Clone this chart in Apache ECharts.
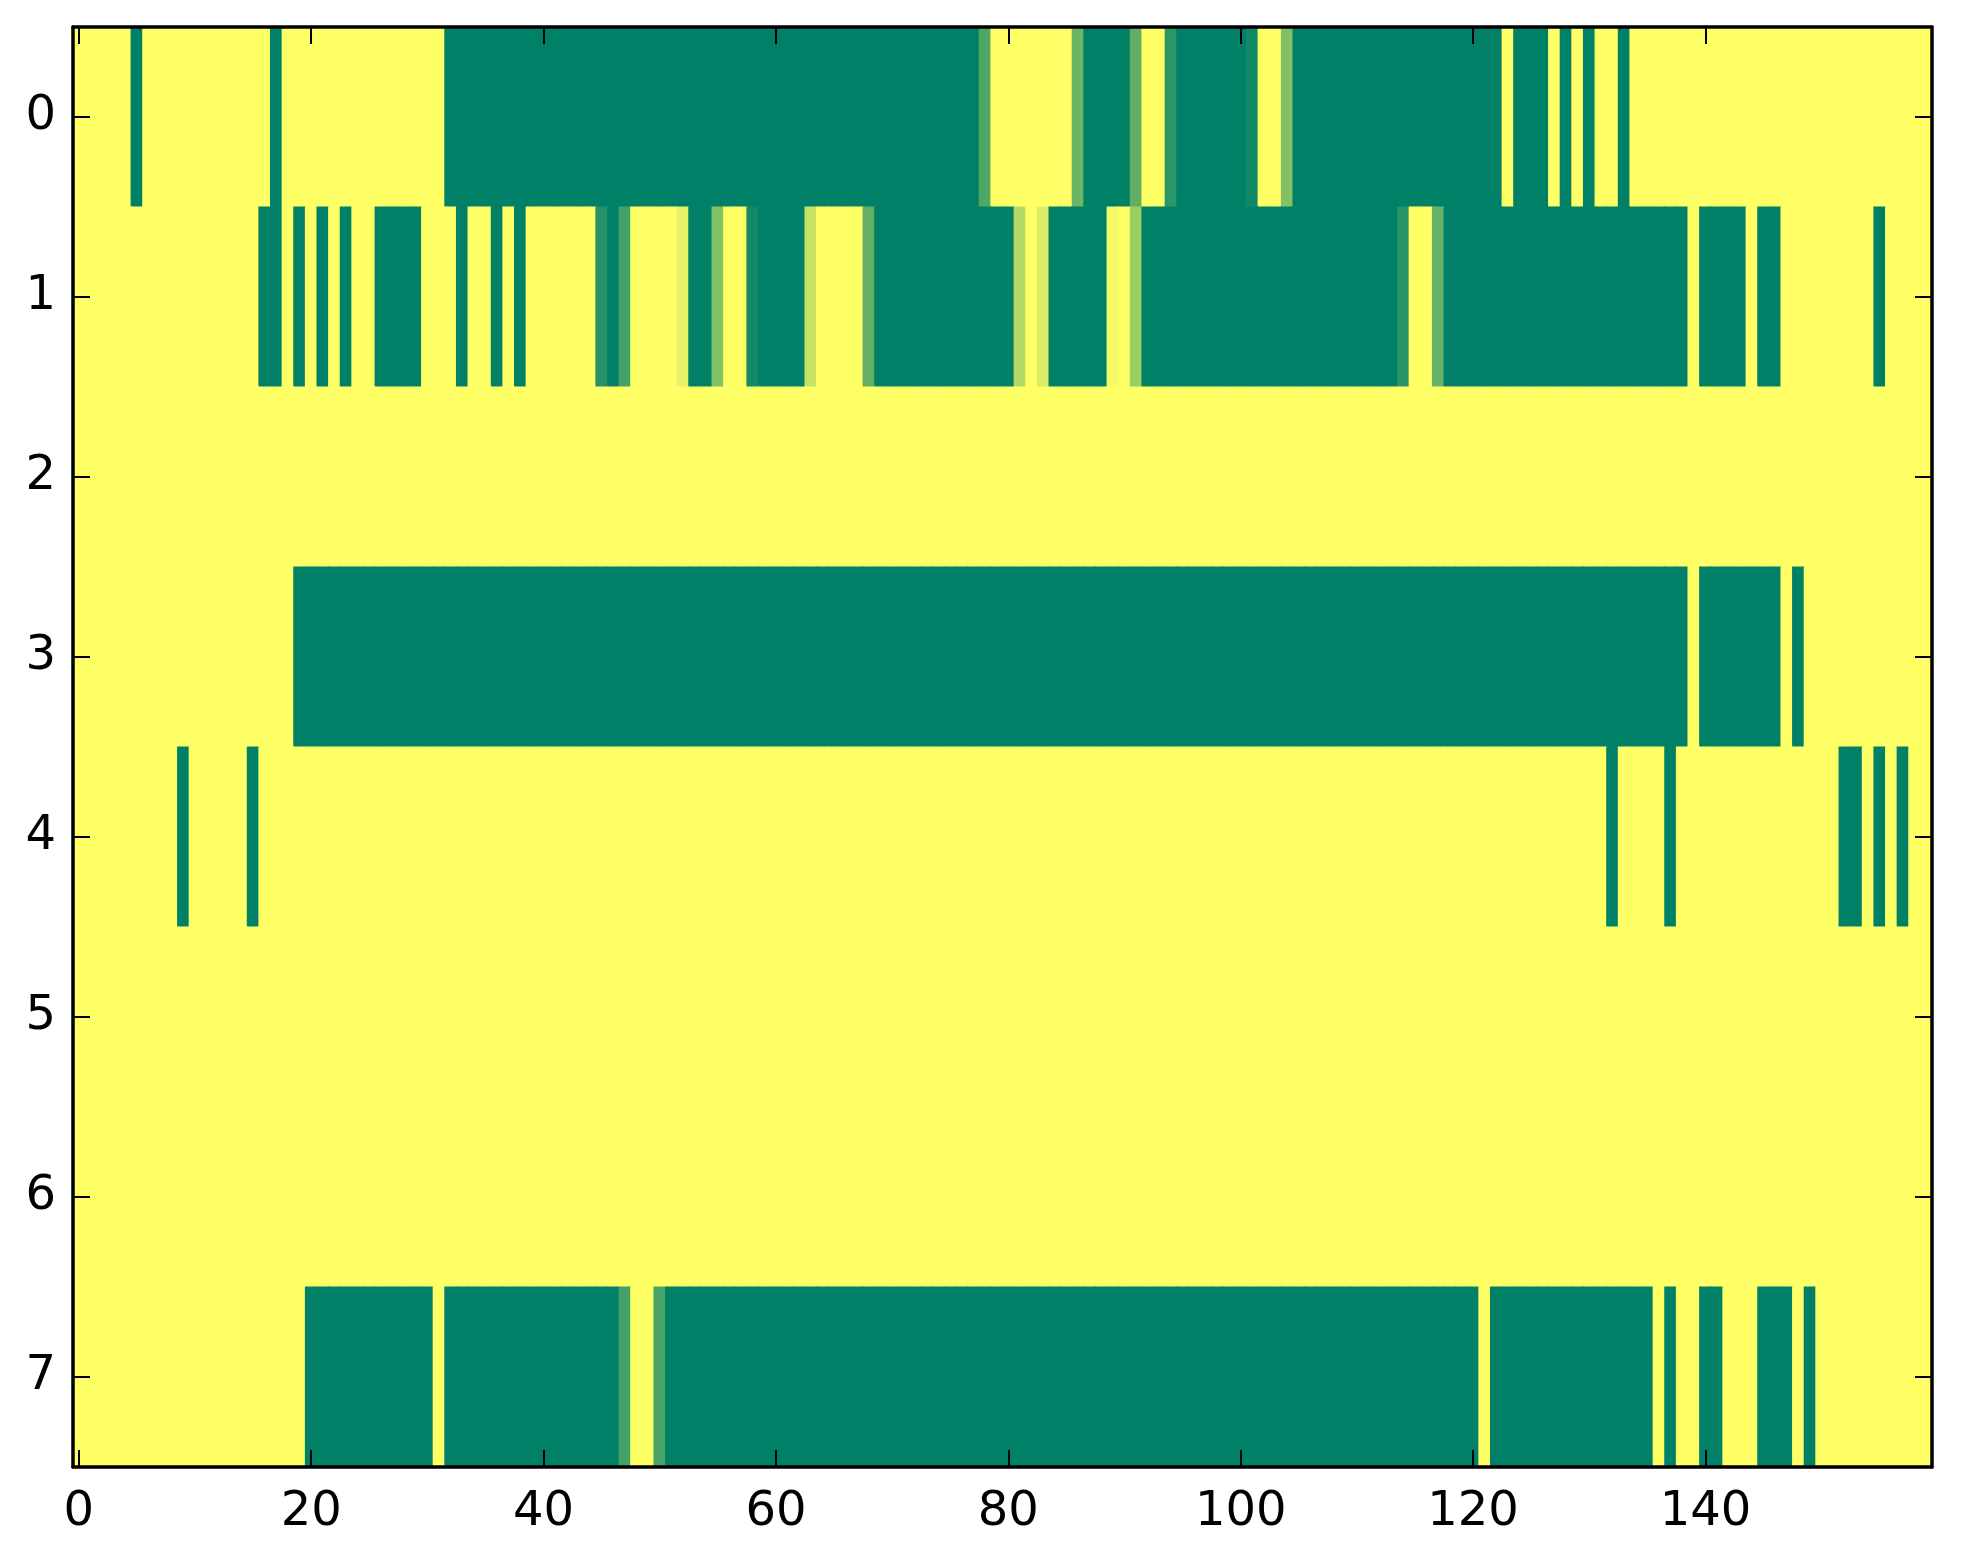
<!DOCTYPE html>
<html><head><meta charset="utf-8">
<script src="https://cdn.jsdelivr.net/npm/echarts@6/dist/echarts.min.js"></script>
<style>html,body{margin:0;padding:0;background:#fff}#c{width:1963px;height:1564px}</style>
</head><body><div id="c"></div>
<script>
const xTickLabels = ['0','20','40','60','80','100','120','140'];
const yCategories = ['0','1','2','3','4','5','6','7'];
const colorLow = '#008066';
const colorHigh = '#ffff66';

const row0 = [
1,1,1,1,1,0,1,1,1,1,
1,1,1,1,1,1,1,0,1,1,
1,1,1,1,1,1,1,1,1,1,
1,1,0,0,0,0,0,0,0,0,
0,0,0,0,0,0,0,0,0,0,
0,0,0,0,0,0,0,0,0,0,
0,0,0,0,0,0,0,0,0,0,
0,0,0,0,0,0,0,0,0.31,1,
1,1,1,1,1,1,0.42,0,0,0,
0,0.38,1,1,0.17,0,0,0,0,0,
0,0.07,1,1,0.51,0,0,0,0,0,
0,0,0,0,0,0,0,0,0,0,
0,0,0,1,0,0,0,1,0,1,
0,1,1,0,1,1,1,1,1,1,
1,1,1,1,1,1,1,1,1,1,
1,1,1,1,1,1,1,1,1,1];
const row1 = [
1,1,1,1,1,1,1,1,1,1,
1,1,1,1,1,1,0,0,1,0,
1,0,1,0,1,1,0,0,0,0,
1,1,1,0,1,1,0,1,0,1,
1,1,1,1,1,0.15,0,0.26,1,1,
1,1,0.9,0,0,0.51,1,1,0.07,0,
0,0,0,0.78,1,1,1,1,0.38,0,
0,0,0,0,0,0,0,0,0,0,
0,0.7,1,0.86,0,0,0,0,0,0.96,
1,0.61,0,0,0,0,0,0,0,0,
0,0,0,0,0,0,0,0,0,0,
0,0,0,0,0.16,1,1,0.4,0,0,
0,0,0,0,0,0,0,0,0,0,
0,0,0,0,0,0,0,0,0,1,
0,0,0,0,1,0,0,1,1,1,
1,1,1,1,1,0,1,1,1,1];
const row2 = [
1,1,1,1,1,1,1,1,1,1, 1,1,1,1,1,1,1,1,1,1,
1,1,1,1,1,1,1,1,1,1, 1,1,1,1,1,1,1,1,1,1,
1,1,1,1,1,1,1,1,1,1, 1,1,1,1,1,1,1,1,1,1,
1,1,1,1,1,1,1,1,1,1, 1,1,1,1,1,1,1,1,1,1,
1,1,1,1,1,1,1,1,1,1, 1,1,1,1,1,1,1,1,1,1,
1,1,1,1,1,1,1,1,1,1, 1,1,1,1,1,1,1,1,1,1,
1,1,1,1,1,1,1,1,1,1, 1,1,1,1,1,1,1,1,1,1,
1,1,1,1,1,1,1,1,1,1, 1,1,1,1,1,1,1,1,1,1];
const row3 = [
1,1,1,1,1,1,1,1,1,1,
1,1,1,1,1,1,1,1,1,0,
0,0,0,0,0,0,0,0,0,0,
0,0,0,0,0,0,0,0,0,0,
0,0,0,0,0,0,0,0,0,0,
0,0,0,0,0,0,0,0,0,0,
0,0,0,0,0,0,0,0,0,0,
0,0,0,0,0,0,0,0,0,0,
0,0,0,0,0,0,0,0,0,0,
0,0,0,0,0,0,0,0,0,0,
0,0,0,0,0,0,0,0,0,0,
0,0,0,0,0,0,0,0,0,0,
0,0,0,0,0,0,0,0,0,0,
0,0,0,0,0,0,0,0,0,1,
0,0,0,0,0,0,0,1,0,1,
1,1,1,1,1,1,1,1,1,1];
const row4 = [
1,1,1,1,1,1,1,1,1,0,
1,1,1,1,1,0,1,1,1,1,
1,1,1,1,1,1,1,1,1,1,
1,1,1,1,1,1,1,1,1,1,
1,1,1,1,1,1,1,1,1,1,
1,1,1,1,1,1,1,1,1,1,
1,1,1,1,1,1,1,1,1,1,
1,1,1,1,1,1,1,1,1,1,
1,1,1,1,1,1,1,1,1,1,
1,1,1,1,1,1,1,1,1,1,
1,1,1,1,1,1,1,1,1,1,
1,1,1,1,1,1,1,1,1,1,
1,1,1,1,1,1,1,1,1,1,
1,1,0,1,1,1,1,0,1,1,
1,1,1,1,1,1,1,1,1,1,
1,1,0,0,1,0,1,0,1,1];
const row5 = [
1,1,1,1,1,1,1,1,1,1, 1,1,1,1,1,1,1,1,1,1,
1,1,1,1,1,1,1,1,1,1, 1,1,1,1,1,1,1,1,1,1,
1,1,1,1,1,1,1,1,1,1, 1,1,1,1,1,1,1,1,1,1,
1,1,1,1,1,1,1,1,1,1, 1,1,1,1,1,1,1,1,1,1,
1,1,1,1,1,1,1,1,1,1, 1,1,1,1,1,1,1,1,1,1,
1,1,1,1,1,1,1,1,1,1, 1,1,1,1,1,1,1,1,1,1,
1,1,1,1,1,1,1,1,1,1, 1,1,1,1,1,1,1,1,1,1,
1,1,1,1,1,1,1,1,1,1, 1,1,1,1,1,1,1,1,1,1];
const row6 = [
1,1,1,1,1,1,1,1,1,1, 1,1,1,1,1,1,1,1,1,1,
1,1,1,1,1,1,1,1,1,1, 1,1,1,1,1,1,1,1,1,1,
1,1,1,1,1,1,1,1,1,1, 1,1,1,1,1,1,1,1,1,1,
1,1,1,1,1,1,1,1,1,1, 1,1,1,1,1,1,1,1,1,1,
1,1,1,1,1,1,1,1,1,1, 1,1,1,1,1,1,1,1,1,1,
1,1,1,1,1,1,1,1,1,1, 1,1,1,1,1,1,1,1,1,1,
1,1,1,1,1,1,1,1,1,1, 1,1,1,1,1,1,1,1,1,1,
1,1,1,1,1,1,1,1,1,1, 1,1,1,1,1,1,1,1,1,1];
const row7 = [
1,1,1,1,1,1,1,1,1,1,
1,1,1,1,1,1,1,1,1,1,
0,0,0,0,0,0,0,0,0,0,
0,1,0,0,0,0,0,0,0,0,
0,0,0,0,0,0,0,0.26,1,1,
0.29,0,0,0,0,0,0,0,0,0,
0,0,0,0,0,0,0,0,0,0,
0,0,0,0,0,0,0,0,0,0,
0,0,0,0,0,0,0,0,0,0,
0,0,0,0,0,0,0,0,0,0,
0,0,0,0,0,0,0,0,0,0,
0,0,0,0,0,0,0,0,0,0,
0,1,0,0,0,0,0,0,0,0,
0,0,0,0,0,0,1,0,1,1,
0,0,1,1,1,0,0,0,1,0,
1,1,1,1,1,1,1,1,1,1];

const rows = [row0,row1,row2,row3,row4,row5,row6,row7];
const xCategories = row0.map((_, i) => String(i));
const data = [];
rows.forEach((r, y) => r.forEach((v, x) => data.push([x, y, v])));

const isTick = (idx) => xTickLabels.indexOf(String(idx)) >= 0;
const font = { fontFamily: 'DejaVu Sans', fontSize: 48, color: '#000' };
const lineStyle = { color: '#000', width: 3.5 };
const tickStyle = { color: '#000', width: 2 };

const chart = echarts.init(document.getElementById('c'), null, { renderer: 'canvas' });
chart.setOption({
  animation: false,
  backgroundColor: '#fff',
  grid: { left: 73, top: 27, right: 31, bottom: 97, containLabel: false },
  xAxis: [
    { type: 'category', data: xCategories, position: 'bottom', z: 10,
      axisLine: { show: true, lineStyle },
      axisTick: { show: true, inside: true, length: 17, alignWithLabel: true, interval: (i) => isTick(i), lineStyle: tickStyle },
      axisLabel: { show: true, interval: (i) => isTick(i), margin: 22, ...font },
      splitLine: { show: false } },
    { type: 'category', data: xCategories, position: 'top', z: 10,
      axisLine: { show: true, lineStyle },
      axisTick: { show: true, inside: true, length: 17, alignWithLabel: true, interval: (i) => isTick(i), lineStyle: tickStyle },
      axisLabel: { show: false }, splitLine: { show: false } }
  ],
  yAxis: [
    { type: 'category', data: yCategories, inverse: true, position: 'left', z: 10,
      axisLine: { show: true, lineStyle },
      axisTick: { show: true, inside: true, length: 17, alignWithLabel: true, lineStyle: tickStyle },
      axisLabel: { show: true, margin: 17, padding: [18, 0, 0, 0], ...font }, splitLine: { show: false } },
    { type: 'category', data: yCategories, inverse: true, position: 'right', z: 10,
      axisLine: { show: true, lineStyle },
      axisTick: { show: true, inside: true, length: 17, alignWithLabel: true, lineStyle: tickStyle },
      axisLabel: { show: false }, splitLine: { show: false } }
  ],
  visualMap: { show: false, type: 'continuous', min: 0, max: 1, dimension: 2, seriesIndex: 0,
    inRange: { color: [colorLow, colorHigh] } },
  series: [{
    type: 'custom', xAxisIndex: 0, yAxisIndex: 0, data: data, z: 1, clip: true,
    encode: { x: 0, y: 1 },
    renderItem: function (params, api) {
      const c = api.coord([api.value(0), api.value(1)]);
      const s = api.size([1, 1]);
      return {
        type: 'rect',
        shape: { x: c[0] - s[0] / 2 - 0.5, y: c[1] - s[1] / 2 - 0.5, width: s[0] + 1, height: s[1] + 1 },
        style: { fill: api.visual('color') }
      };
    }
  }]
});
</script></body></html>
